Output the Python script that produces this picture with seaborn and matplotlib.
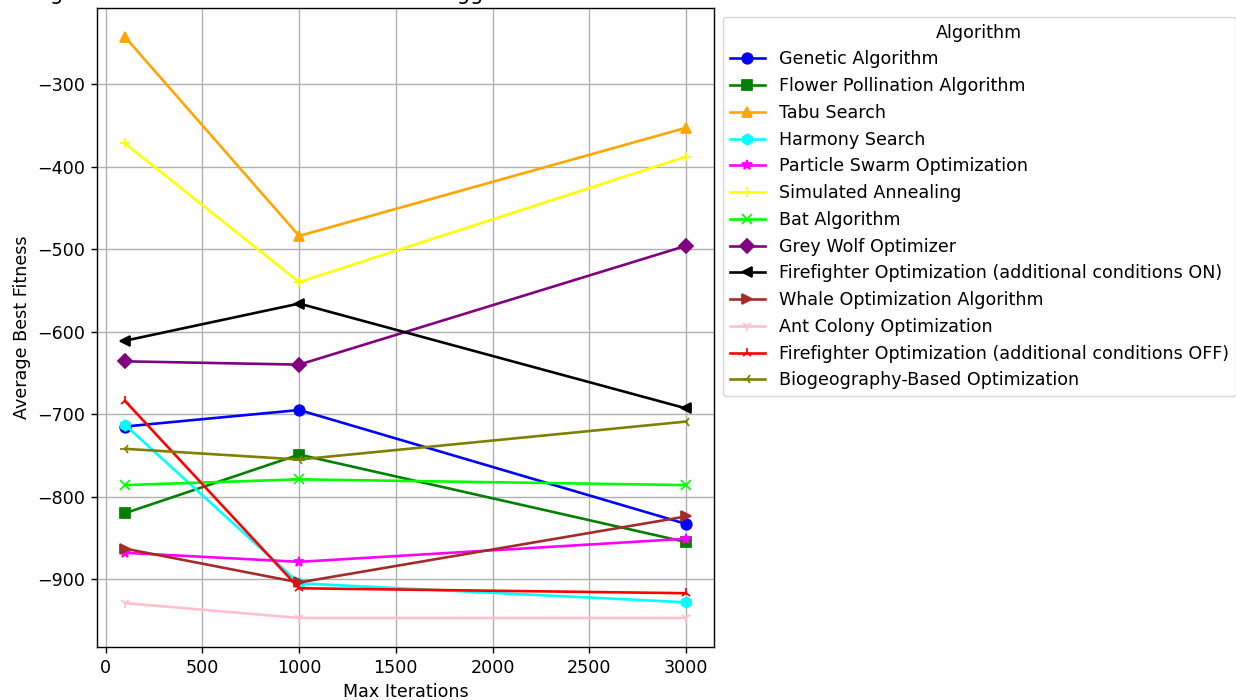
"""
Average best fitness vs max iterations, one line per algorithm.
"""

import matplotlib
matplotlib.use("Agg")
import matplotlib.pyplot as plt
import pandas as pd
import seaborn as sns

iterations = [100, 1000, 3000]

algorithms = [
    "Genetic Algorithm",
    "Flower Pollination Algorithm",
    "Tabu Search",
    "Harmony Search",
    "Particle Swarm Optimization",
    "Simulated Annealing",
    "Bat Algorithm",
    "Grey Wolf Optimizer",
    "Firefighter Optimization (additional conditions ON)",
    "Whale Optimization Algorithm",
    "Ant Colony Optimization",
    "Firefighter Optimization (additional conditions OFF)",
    "Biogeography-Based Optimization",
]

fitness_ga = [-715, -695, -833]
fitness_fpa = [-820, -749, -855]
fitness_tabu = [-243, -484, -353]
fitness_hs = [-713, -905, -928]
fitness_pso = [-868, -879, -851]
fitness_sa = [-372, -540, -388]
fitness_bat = [-786, -779, -786]
fitness_gwo = [-636, -640, -496]
fitness_ffo_on = [-611, -566, -693]
fitness_woa = [-863, -904, -824]
fitness_aco = [-929, -947, -947]
fitness_ffo_off = [-684, -911, -917]
fitness_bbo = [-742, -755, -709]

colors = ["blue", "green", "orange", "cyan", "magenta", "yellow", "lime",
          "purple", "black", "brown", "pink", "red", "olive"]
markers = ["o", "s", "^", "h", "*", "+", "x", "D", "<", ">", "1", "2", "3"]

all_fitness = [fitness_ga, fitness_fpa, fitness_tabu, fitness_hs, fitness_pso,
               fitness_sa, fitness_bat, fitness_gwo, fitness_ffo_on, fitness_woa,
               fitness_aco, fitness_ffo_off, fitness_bbo]

rows = []
for name, values in zip(algorithms, all_fitness):
    for it, val in zip(iterations, values):
        rows.append({"Algorithm": name, "Max Iterations": it, "Average Best Fitness": val})
data = pd.DataFrame(rows)

# everything in the reference is drawn about 1.26x the matplotlib defaults
scale = 1.26
plt.rcParams["font.size"] = 10 * scale
plt.rcParams["axes.linewidth"] = 0.8 * scale
plt.rcParams["grid.linewidth"] = 0.8 * scale
for axis in ("xtick", "ytick"):
    plt.rcParams[f"{axis}.major.size"] = 3.5 * scale
    plt.rcParams[f"{axis}.major.width"] = 0.8 * scale
    plt.rcParams[f"{axis}.major.pad"] = 3.5 * scale

fig = plt.figure(figsize=(12.36, 7), dpi=100)
ax = fig.add_axes([0.0785, 0.0757, 0.4992, 0.9129])

for name, color, marker in zip(algorithms, colors, markers):
    sub = data[data["Algorithm"] == name]
    sns.lineplot(data=sub, x="Max Iterations", y="Average Best Fitness", ax=ax,
                 color=color, marker=marker, markersize=6 * scale, markeredgecolor=color,
                 markeredgewidth=1.0 * scale, linewidth=1.5 * scale, label=name)

ax.grid(True)
ax.set_xlabel("Max Iterations")
ax.set_ylabel("Average Best Fitness")
ax.legend(title="Algorithm", loc="upper left", bbox_to_anchor=(1.0, 1.0))

# title sits mostly above the top edge, as in the reference (only descenders show)
fig.text(-0.008, 1.0, "Average Best Fitness vs. Max Iterations for Eggholder Function",
         fontsize=12 * scale, ha="left", va="baseline")

plt.savefig("out.png", dpi=100)
plt.close()
